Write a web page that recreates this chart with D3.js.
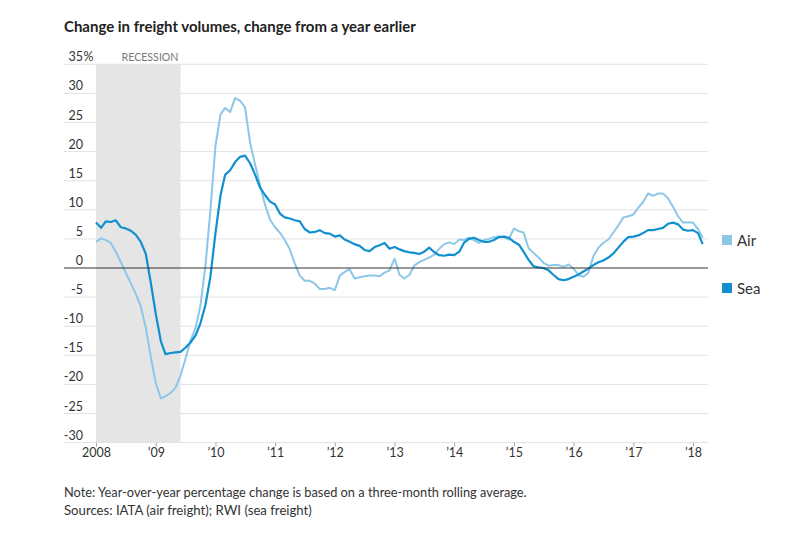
<!DOCTYPE html>
<html>
<head>
<meta charset="utf-8">
<script src="https://cdn.jsdelivr.net/npm/d3@7"></script>
<style>
  html, body { margin: 0; padding: 0; background: #fff; }
  svg { display: block; }
  text { font-family: Lato, "Noto Sans", sans-serif; }
</style>
</head>
<body>
<svg id="chart" width="794" height="537"></svg>
<script>
// ---------- data ----------
const title = "Change in freight volumes, change from a year earlier";
const startMonth = new Date(2008, 0, 1);
const endMonth = new Date(2018, 3, 1); // exclusive
const seaValues = [
  7.8, 6.9, 8.0, 7.9, 8.2, 7.0, 6.8, 6.4, 5.7, 4.5,
  2.4, -2.5, -7.9, -12.6, -14.8, -14.6, -14.5, -14.4, -13.7, -12.8,
  -11.6, -9.5, -6.3, -1.5, 6.0, 12.5, 16.0, 16.8, 18.2, 19.1,
  19.3, 18.0, 16.0, 13.8, 12.5, 11.4, 10.9, 9.3, 8.7, 8.5,
  8.2, 8.0, 6.7, 6.1, 6.2, 6.5, 6.0, 5.9, 5.4, 5.6,
  4.9, 4.5, 4.1, 3.8, 3.1, 2.9, 3.6, 3.9, 4.3, 3.3,
  3.6, 3.2, 2.9, 2.7, 2.6, 2.4, 2.8, 3.5, 2.7, 2.2,
  2.1, 2.3, 2.2, 2.8, 4.3, 5.0, 5.2, 4.8, 4.5, 4.5,
  4.8, 5.3, 5.4, 5.2, 4.5, 4.0, 2.8, 1.4, 0.3, 0.1,
  0.0, -0.4, -1.2, -1.9, -2.1, -1.9, -1.5, -1.1, -0.6, -0.1,
  0.5, 1.0, 1.3, 1.8, 2.5, 3.5, 4.5, 5.3, 5.4, 5.6,
  6.0, 6.5, 6.5, 6.7, 6.9, 7.6, 7.8, 7.5, 6.6, 6.4,
  6.5, 6.0, 4.1
];
const airValues = [
  4.5, 5.1, 4.8, 4.3, 2.8, 1.0, -0.8, -2.6, -4.5, -6.6,
  -10.3, -15.2, -19.8, -22.4, -22.0, -21.5, -20.6, -18.5, -15.6, -12.5,
  -10.3, -6.5, 0.5, 10.0, 21.0, 26.4, 27.5, 26.8, 29.2, 28.7,
  27.6, 21.5, 17.7, 14.2, 10.8, 8.3, 7.0, 6.0, 4.8, 3.2,
  0.8, -1.3, -2.2, -2.2, -2.7, -3.6, -3.6, -3.4, -3.8, -1.3,
  -0.7, -0.2, -1.8, -1.6, -1.4, -1.3, -1.3, -1.4, -0.8, -0.4,
  1.6, -1.2, -1.8, -1.2, 0.4, 1.0, 1.4, 1.8, 2.3, 3.3,
  4.1, 4.4, 4.1, 4.9, 4.8, 5.2, 4.8, 4.3, 4.8, 5.0,
  5.3, 5.4, 5.3, 4.9, 6.8, 6.3, 6.1, 3.4, 2.6, 1.8,
  0.9, 0.4, 0.5, 0.5, 0.2, 0.6, -0.1, -1.2, -1.5, -0.8,
  2.0, 3.5, 4.3, 4.9, 6.1, 7.3, 8.7, 8.9, 9.2, 10.4,
  11.3, 12.8, 12.4, 12.8, 12.8, 12.0, 10.5, 8.9, 7.8, 7.8,
  7.8, 6.7, 5.2
];
const yTicks = [35, 30, 25, 20, 15, 10, 5, 0, -5, -10, -15, -20, -25, -30];
const xTickYears = [2008, 2009, 2010, 2011, 2012, 2013, 2014, 2015, 2016, 2017, 2018];
const xTickLabels = ["2008", "\u201909", "\u201910", "\u201911", "\u201912", "\u201913", "\u201914", "\u201915", "\u201916", "\u201917", "\u201918"];
const recession = [new Date(2008, 0, 1), new Date(2009, 5, 1)];
const seriesNames = ["Air", "Sea"];
const seriesColors = ["#8cc7e8", "#1190cf"];
const noteLines = [
  "Note: Year-over-year percentage change is based on a three-month rolling average.",
  "Sources: IATA (air freight); RWI (sea freight)"
];

// ---------- setup ----------
const months = d3.timeMonth.range(startMonth, endMonth);
const svg = d3.select("#chart");

const x = d3.scaleTime()
  .domain([new Date(2008, 0, 1), new Date(2018, 0, 1)])
  .range([96, 693]);
const y = d3.scaleLinear().domain([-30, 35]).range([442.6, 64.3]);

const gridLeft = 64, gridRight = 708;

function fitWidth(sel, target) {
  const node = sel.node();
  const w = node.getComputedTextLength();
  const fs = parseFloat(sel.attr("font-size"));
  sel.attr("font-size", (fs * target / w).toFixed(2));
}

// Title
const t = svg.append("text")
  .attr("x", 64).attr("y", 32)
  .attr("font-size", 14).attr("font-weight", 700)
  .attr("fill", "#222")
  .text(title);
fitWidth(t, 352);

// Recession band
svg.append("rect")
  .attr("x", x(recession[0]))
  .attr("y", y(35))
  .attr("width", x(recession[1]) - x(recession[0]))
  .attr("height", y(-30) - y(35))
  .attr("fill", "#e5e5e5");

const rl = svg.append("text")
  .attr("x", x(recession[1]) - 2).attr("y", y(35) - 3)
  .attr("text-anchor", "end")
  .attr("font-size", 11.5).attr("fill", "#777")
  .text("RECESSION");
fitWidth(rl, 57);

// Gridlines
svg.append("g").selectAll("line")
  .data(yTicks.filter(d => d !== 0))
  .join("line")
  .attr("x1", gridLeft).attr("x2", gridRight)
  .attr("y1", d => y(d)).attr("y2", d => y(d))
  .attr("stroke", "#e2e2e2").attr("stroke-width", 1);

// Y labels
svg.append("g").selectAll("text")
  .data(yTicks)
  .join("text")
  .attr("x", 83).attr("y", d => y(d) - 3)
  .attr("text-anchor", "end")
  .attr("font-size", 12.5).attr("fill", "#333")
  .text(d => String(d));
svg.append("text")
  .attr("x", 83.5).attr("y", y(35) - 3)
  .attr("font-size", 12.5).attr("fill", "#333")
  .text("%");

// X axis ticks and labels
const xAxis = d3.axisBottom(x)
  .tickValues(xTickYears.map(yr => new Date(yr, 0, 1)))
  .tickSize(4)
  .tickFormat((d, i) => xTickLabels[i]);
const gx = svg.append("g")
  .attr("transform", `translate(0,${y(-30)})`)
  .call(xAxis);
gx.select(".domain").remove();
gx.selectAll(".tick line").attr("stroke", "#aaa");
gx.selectAll(".tick text")
  .attr("font-family", "Lato, sans-serif")
  .attr("font-size", 12.5).attr("fill", "#333")
  .attr("dy", "0.71em").attr("y", 6);

// Lines
const line = d3.line()
  .x((d, i) => x(months[i]))
  .y(d => y(d))
  .curve(d3.curveLinear);

svg.append("path")
  .datum(airValues)
  .attr("d", line)
  .attr("fill", "none")
  .attr("stroke", seriesColors[0])
  .attr("stroke-width", 2)
  .attr("stroke-linejoin", "round");

svg.append("path")
  .datum(seaValues)
  .attr("d", line)
  .attr("fill", "none")
  .attr("stroke", seriesColors[1])
  .attr("stroke-width", 2.2)
  .attr("stroke-linejoin", "round");

// Zero line
svg.append("line")
  .attr("x1", gridLeft).attr("x2", gridRight)
  .attr("y1", y(0)).attr("y2", y(0))
  .attr("stroke", "#333").attr("stroke-width", 1);

// Legend
const legendY = [240, 288];
const lg = svg.append("g").selectAll("g")
  .data(seriesNames)
  .join("g")
  .attr("transform", (d, i) => `translate(722,${legendY[i]})`);
lg.append("rect")
  .attr("x", 0).attr("y", -5).attr("width", 10).attr("height", 10)
  .attr("fill", (d, i) => seriesColors[i]);
lg.append("text")
  .attr("x", 15).attr("y", 5.5)
  .attr("font-size", 15).attr("fill", "#333")
  .text(d => d);

// Notes
noteLines.forEach((ln, i) => {
  const n = svg.append("text")
    .attr("x", 64).attr("y", 497 + i * 18)
    .attr("font-size", 12.5).attr("fill", "#333")
    .text(ln);
  fitWidth(n, i === 0 ? 463 : 248);
});
</script>
</body>
</html>
